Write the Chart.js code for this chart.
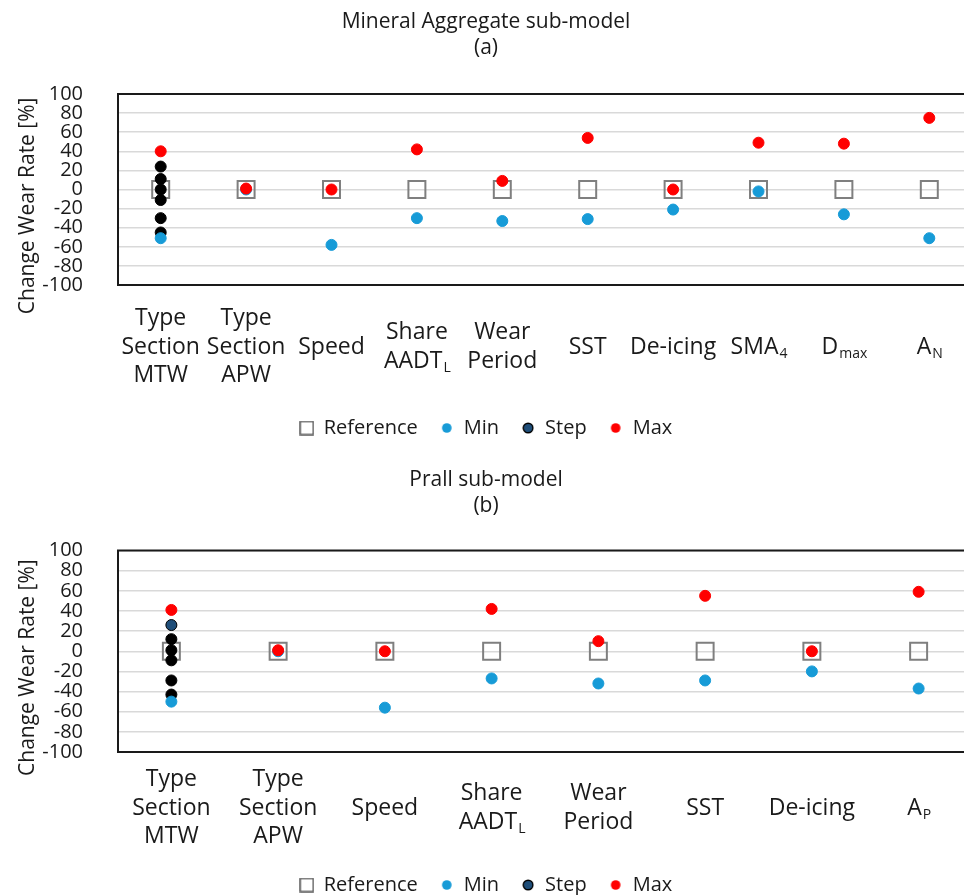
<!DOCTYPE html>
<html>
<head>
<meta charset="utf-8">
<script src="https://cdn.jsdelivr.net/npm/chart.js@4.4.0/dist/chart.umd.min.js"></script>
<style>
  html, body { margin: 0; padding: 0; background: #fff; overflow: hidden; }
  body { width: 1000px; }
  canvas { display: block; }
</style>
</head>
<body>
<canvas id="chartA" width="986" height="452"></canvas>
<canvas id="chartB" width="986" height="443"></canvas>
<script>
// ---- data, top chart (a) ----
// "_" marks the start of a subscript
var catsA = [['Type','Section','MTW'], ['Type','Section','APW'], ['Speed'], ['Share','AADT_L'], ['Wear','Period'],
             ['SST'], ['De-icing'], ['SMA_4'], ['D_max'], ['A_N']];
var refA  = [0, 0, 0, 0, 0, 0, 0, 0, 0, 0];
var minA  = [-51, 0, -58, -30, -33, -31, -21, -2, -26, -51];
var maxA  = [40, 1, 0, 42, 9, 54, 0, 49, 48, 75];
var stepA = [24, 11, 0, -11, -30, -45];   // all on Type Section MTW

// ---- data, bottom chart (b) ----
var catsB = [['Type','Section','MTW'], ['Type','Section','APW'], ['Speed'], ['Share','AADT_L'], ['Wear','Period'],
             ['SST'], ['De-icing'], ['A_P']];
var refB  = [0, 0, 0, 0, 0, 0, 0, 0];
var minB  = [-50, 0, -56, -27, -32, -29, -20, -37];
var maxB  = [41, 1, 0, 42, 10, 55, 0, 59];
var stepB = [26, 12, 1, -9, -29, -43];

var yTicks = [100, 80, 60, 40, 20, 0, -20, -40, -60, -80, -100];

var FONT = "'Open Sans', 'Noto Sans', sans-serif";
var TXT = '#1a1a1a';
var BLUE = '#179bd7', RED = '#ff0000', STEPBLUE = '#1f4e79';

// small marker pictures for the legend
function marker(kind) {
  var c = document.createElement('canvas');
  var ctx = c.getContext('2d');
  if (kind === 'rect') {
    c.width = 15; c.height = 15;
    ctx.strokeStyle = '#595959'; ctx.lineWidth = 1.5;
    ctx.strokeRect(1, 1, 13, 13);
  } else {
    c.width = 12; c.height = 12;
    ctx.beginPath(); ctx.arc(6, 6, 4.8, 0, Math.PI * 2);
    ctx.fillStyle = kind; ctx.fill();
    if (kind === STEPBLUE) { ctx.strokeStyle = '#000'; ctx.lineWidth = 1.4; ctx.stroke(); }
  }
  return c;
}
var legendMarks = { 'Reference': marker('rect'), 'Min': marker(BLUE), 'Step': marker(STEPBLUE), 'Max': marker(RED) };

// schwarzer Rahmen um die Plotfläche
var framePlugin = {
  id: 'frame',
  beforeDatasetsDraw: function(chart) {
    var a = chart.chartArea, ctx = chart.ctx;
    ctx.save();
    ctx.strokeStyle = '#1a1a1a';
    ctx.lineWidth = 2;
    ctx.strokeRect(a.left, a.top, a.right - a.left, a.bottom - a.top);
    ctx.restore();
  }
};

// x labels with subscripts, vertically centred like Excel
var xLabelPlugin = {
  id: 'xlabels',
  afterDraw: function(chart, args, opts) {
    var ctx = chart.ctx, sx = chart.scales.x;
    var lh = 28.5, cy = chart.chartArea.bottom + opts.offset;
    ctx.save();
    ctx.fillStyle = TXT;
    ctx.textBaseline = 'middle';
    ctx.textAlign = 'left';
    opts.cats.forEach(function(lines, i) {
      var x = sx.getPixelForValue(i);
      var y0 = cy - (lines.length - 1) * lh / 2;
      lines.forEach(function(line, k) {
        var parts = line.split('_');
        ctx.font = '23px ' + FONT;
        var w1 = ctx.measureText(parts[0]).width;
        var w2 = 0;
        if (parts[1]) { ctx.font = '14px ' + FONT; w2 = ctx.measureText(parts[1]).width; }
        var left = x - (w1 + w2) / 2, y = y0 + k * lh;
        ctx.font = '23px ' + FONT;
        ctx.fillText(parts[0], left, y);
        if (parts[1]) {
          ctx.font = '14px ' + FONT;
          ctx.fillText(parts[1], left + w1 + 1, y + 7);
        }
      });
    });
    ctx.restore();
  }
};

function makeChart(id, titleText, cats, ref, mins, maxs, steps, stepColors, opt) {
  var labels = cats.map(function(c) { return c.join(' '); });
  var stepData = steps.map(function(v) { return { x: labels[0], y: v }; });

  return new Chart(document.getElementById(id), {
    type: 'line',
    data: {
      labels: labels,
      datasets: [
        { label: 'Reference', data: ref, order: 3, showLine: false,
          pointStyle: 'rect', pointRadius: 12, pointHoverRadius: 12,
          pointBackgroundColor: 'rgba(0,0,0,0)', pointBorderColor: '#7f7f7f', pointBorderWidth: 2 },
        { label: 'Min', data: mins, order: 1, showLine: false,
          pointRadius: 5.5, pointHoverRadius: 5.5,
          pointBackgroundColor: BLUE, pointBorderColor: BLUE, pointBorderWidth: 1 },
        { label: 'Step', data: stepData, order: 2, showLine: false,
          pointRadius: 5.5, pointHoverRadius: 5.5,
          pointBackgroundColor: stepColors, pointBorderColor: '#000', pointBorderWidth: 1 },
        { label: 'Max', data: maxs, order: 0, showLine: false,
          pointRadius: 5.5, pointHoverRadius: 5.5,
          pointBackgroundColor: RED, pointBorderColor: RED, pointBorderWidth: 1 }
      ]
    },
    options: {
      responsive: false,
      animation: false,
      layout: { padding: { left: 0, right: 14, top: 0, bottom: opt.padBottom } },
      scales: {
        x: {
          type: 'category',
          offset: true,
          grid: { display: false },
          border: { display: false },
          ticks: { display: false },
          afterFit: function(s) { s.height = opt.xHeight; }
        },
        y: {
          min: -100, max: 100,
          afterFit: function(s) { s.width = 118; },
          afterBuildTicks: function(s) { s.ticks = yTicks.map(function(v) { return { value: v }; }); },
          grid: { color: '#d9d9d9', lineWidth: 1.5, drawTicks: false },
          border: { display: false },
          ticks: { autoSkip: false, padding: 35, color: TXT, font: { family: FONT, size: 20 } },
          title: { display: true, text: 'Change Wear Rate [%]      ', color: TXT,
                   font: { family: FONT, size: 21 }, padding: { top: 15, bottom: 0 } }
        }
      },
      plugins: {
        title: { display: true, text: titleText, color: TXT,
                 font: { family: FONT, size: 21, weight: 'normal', lineHeight: 1.25 },
                 padding: { top: opt.titleTop, bottom: opt.titleBottom } },
        legend: {
          position: 'bottom',
          labels: {
            usePointStyle: true, boxWidth: 14, boxHeight: 14, padding: 22,
            color: TXT, font: { family: FONT, size: 20 },
            sort: function(a, b) { return a.datasetIndex - b.datasetIndex; },
            generateLabels: function(chart) {
              var items = Chart.defaults.plugins.legend.labels.generateLabels(chart);
              items.forEach(function(it) { it.pointStyle = legendMarks[it.text]; });
              return items;
            }
          }
        },
        tooltip: { enabled: false },
        xlabels: { cats: cats, offset: opt.labelOffset }
      }
    },
    plugins: [framePlugin, xLabelPlugin]
  });
}

makeChart('chartA', ['Mineral Aggregate sub-model', '(a)'], catsA, refA, minA, maxA, stepA,
  stepA.map(function() { return '#000'; }),
  { titleTop: 9, titleBottom: 32.5, xHeight: 111, padBottom: 4, labelOffset: 62 });

makeChart('chartB', ['Prall sub-model', '(b)'], catsB, refB, minB, maxB, stepB,
  stepB.map(function(v, i) { return i === 0 ? STEPBLUE : '#000'; }),
  { titleTop: 15, titleBottom: 31, xHeight: 101, padBottom: -10, labelOffset: 56 });
</script>
</body>
</html>
